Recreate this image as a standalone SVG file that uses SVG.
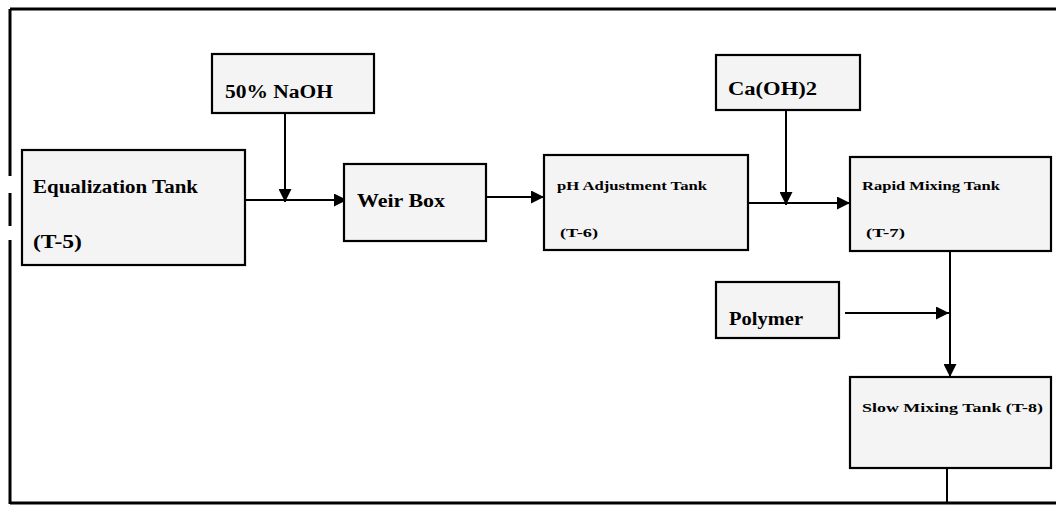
<svg xmlns="http://www.w3.org/2000/svg" width="1056" height="506" viewBox="0 0 1056 506">
<style>
.box{fill:#f4f4f4;stroke:#000;stroke-width:2.2}
.frame{stroke:#000;stroke-width:3;fill:none}
.conn{stroke:#000;stroke-width:2;fill:none}
.t{font-family:"Liberation Serif","DejaVu Serif",serif;font-weight:bold;fill:#000}
.big{font-size:18px}
.sm{font-size:12px}
</style>
<defs>
<marker id="ah" viewBox="0 0 10 10" refX="10" refY="5" markerWidth="6.5" markerHeight="6.5" orient="auto" markerUnits="strokeWidth">
<path d="M0,0 L10,5 L0,10 z" fill="#000"/>
</marker>
</defs>
<rect width="1056" height="506" fill="#fff"/>
<g id="frame">
<line class="frame" x1="10" y1="9" x2="1056" y2="9"/>
<line class="frame" x1="10" y1="9" x2="10" y2="176"/>
<line class="frame" x1="10" y1="193" x2="10" y2="226"/>
<line class="frame" x1="10" y1="240" x2="10" y2="504"/>
<line class="frame" x1="10" y1="503" x2="1056" y2="503"/>
</g>
<g id="connectors">
<line class="conn" x1="245" y1="200" x2="347" y2="200" marker-end="url(#ah)"/>
<line class="conn" x1="285" y1="113" x2="285" y2="202" marker-end="url(#ah)"/>
<line class="conn" x1="486" y1="197" x2="544" y2="197" marker-end="url(#ah)"/>
<line class="conn" x1="748" y1="203" x2="850" y2="203" marker-end="url(#ah)"/>
<line class="conn" x1="786" y1="110" x2="786" y2="205" marker-end="url(#ah)"/>
<line class="conn" x1="950" y1="251" x2="950" y2="377" marker-end="url(#ah)"/>
<line class="conn" x1="845" y1="313" x2="949" y2="313" marker-end="url(#ah)"/>
<line class="conn" x1="947" y1="468" x2="947" y2="503"/>
</g>
<g id="eq-tank">
<rect class="box" x="22" y="150" width="223" height="115"/>
<text class="t big" x="33" y="193" textLength="165" lengthAdjust="spacingAndGlyphs">Equalization Tank</text>
<text class="t big" x="33" y="248" textLength="49" lengthAdjust="spacingAndGlyphs">(T-5)</text>
</g>
<g id="naoh">
<rect class="box" x="212" y="54" width="162" height="59"/>
<text class="t big" x="225" y="98" textLength="108" lengthAdjust="spacingAndGlyphs">50% NaOH</text>
</g>
<g id="weir-box">
<rect class="box" x="344" y="164" width="142" height="77"/>
<text class="t big" x="357" y="207" textLength="88" lengthAdjust="spacingAndGlyphs">Weir Box</text>
</g>
<g id="ph-tank">
<rect class="box" x="544" y="155" width="204" height="95"/>
<text class="t sm" x="557" y="190" textLength="150" lengthAdjust="spacingAndGlyphs">pH Adjustment Tank</text>
<text class="t sm" x="560" y="237" textLength="38" lengthAdjust="spacingAndGlyphs">(T-6)</text>
</g>
<g id="caoh2">
<rect class="box" x="716" y="55" width="144" height="55"/>
<text class="t big" x="728" y="95" textLength="89" lengthAdjust="spacingAndGlyphs">Ca(OH)2</text>
</g>
<g id="rapid-tank">
<rect class="box" x="850" y="157" width="201" height="94"/>
<text class="t sm" x="862" y="190" textLength="138" lengthAdjust="spacingAndGlyphs">Rapid Mixing Tank</text>
<text class="t sm" x="866" y="237" textLength="39" lengthAdjust="spacingAndGlyphs">(T-7)</text>
</g>
<g id="polymer">
<rect class="box" x="716" y="282" width="123" height="56"/>
<text class="t big" x="729" y="325" textLength="74" lengthAdjust="spacingAndGlyphs">Polymer</text>
</g>
<g id="slow-tank">
<rect class="box" x="850" y="377" width="201" height="91"/>
<text class="t sm" x="862" y="412" textLength="181" lengthAdjust="spacingAndGlyphs">Slow Mixing Tank (T-8)</text>
</g>
</svg>
